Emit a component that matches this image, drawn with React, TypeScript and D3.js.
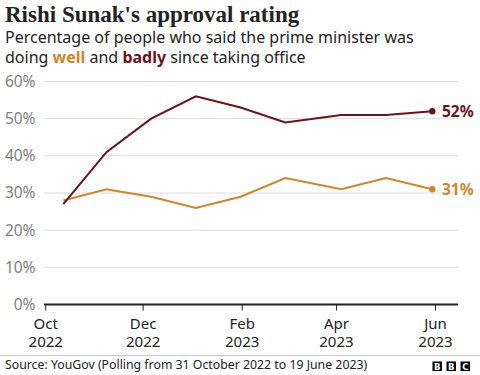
import React from "react";
import * as d3 from "d3";

const pollDates = ["2022-10-31", "2022-11-27", "2022-12-25", "2023-01-22", "2023-02-19", "2023-03-19", "2023-04-23", "2023-05-21", "2023-06-19"];
const badly = [27, 41, 50, 56, 53, 49, 51, 51, 52];
const well = [28, 31, 29, 26, 29, 34, 31, 34, 31];
const yTicks = [0, 10, 20, 30, 40, 50, 60];
const xTickDates = ["2022-10-20", "2022-12-20", "2023-02-20", "2023-04-20", "2023-06-21"];
const xTickMonths = ["Oct", "Dec", "Feb", "Apr", "Jun"];
const xTickYears = ["2022", "2022", "2023", "2023", "2023"];

const W = 480;
const H = 375;
const BADLY = "#6c1219";
const WELL = "#d38524";
const SANS = "'Noto Sans', 'Open Sans', sans-serif";

export default function App() {
  const parse = d3.timeParse("%Y-%m-%d");
  const dates = pollDates.map((d) => parse(d) as Date);
  const x = d3
    .scaleTime()
    .domain([parse("2022-10-31") as Date, parse("2023-06-19") as Date])
    .range([63.3, 432.3]);
  const y = d3.scaleLinear().domain([0, 60]).range([304.5, 81.5]);
  const gridX0 = 44;
  const gridX1 = 458;

  const line = d3
    .line<number>()
    .x((_, i) => x(dates[i]))
    .y((v) => y(v));

  const last = dates.length - 1;

  return (
    <svg width={W} height={H} style={{ position: "absolute", left: 0, top: 0, background: "#fff" }}>
      <text x={5} y={22} fontFamily="'Liberation Serif', serif" fontWeight="bold" fontSize={23} fill="#222">
        Rishi Sunak's approval rating
      </text>
      <text x={5} y={43} fontFamily={SANS} fontSize={16} fill="#222">
        Percentage of people who said the prime minister was
      </text>
      <text x={5} y={63} fontFamily={SANS} fontSize={16} fill="#222">
        doing <tspan fill={WELL} fontWeight="bold">well</tspan> and{" "}
        <tspan fill={BADLY} fontWeight="bold">badly</tspan> since taking office
      </text>

      {yTicks.map((t) => (
        <g key={t}>
          {t !== 0 && <line x1={gridX0} x2={gridX1} y1={y(t)} y2={y(t)} stroke="#dcdcdc" strokeWidth={1} />}
          <text x={35.5} y={y(t)} dy="0.35em" textAnchor="end" fontFamily={SANS} fontSize={15.5} fill="#808080">
            {t}%
          </text>
        </g>
      ))}

      {xTickDates.map((d, i) => {
        const xx = x(parse(d) as Date);
        return (
          <g key={d}>
            <line x1={xx} x2={xx} y1={y(0)} y2={y(0) + 6} stroke="#222" strokeWidth={1} />
            <text x={xx} y={328.5} textAnchor="middle" fontFamily={SANS} fontSize={15} fill="#222">
              <tspan x={xx}>{xTickMonths[i]}</tspan>
              <tspan x={xx} dy={18}>{xTickYears[i]}</tspan>
            </text>
          </g>
        );
      })}
      <line x1={gridX0} x2={gridX1} y1={y(0)} y2={y(0)} stroke="#222" strokeWidth={2} />

      <path d={line(well) || ""} fill="none" stroke={WELL} strokeWidth={2} />
      <path d={line(badly) || ""} fill="none" stroke={BADLY} strokeWidth={2} />
      <circle cx={x(dates[last])} cy={y(badly[last])} r={3.2} fill={BADLY} />
      <circle cx={x(dates[last])} cy={y(well[last])} r={3.2} fill={WELL} />
      <text x={442} y={y(badly[last])} dy="0.35em" fontFamily={SANS} fontWeight="bold" fontSize={15.5} fill={BADLY}>
        {badly[last]}%
      </text>
      <text x={442} y={y(well[last])} dy="0.35em" fontFamily={SANS} fontWeight="bold" fontSize={15.5} fill={WELL}>
        {well[last]}%
      </text>

      <line x1={0} x2={W} y1={355.5} y2={355.5} stroke="#c8c8c8" strokeWidth={1} />
      <text x={5} y={369} fontFamily={SANS} fontSize={12.3} fill="#222">
        Source: YouGov (Polling from 31 October 2022 to 19 June 2023)
      </text>
      {["B", "B", "C"].map((c, i) => (
        <g key={i}>
          <rect x={432.5 + i * 14} y={361.5} width={9.5} height={9.5} fill="#000" />
          <text x={437.25 + i * 14} y={369.8} textAnchor="middle" fontFamily="'DejaVu Sans', sans-serif" fontWeight="bold" fontSize={8.5} fill="#fff">
            {c}
          </text>
        </g>
      ))}
    </svg>
  );
}
